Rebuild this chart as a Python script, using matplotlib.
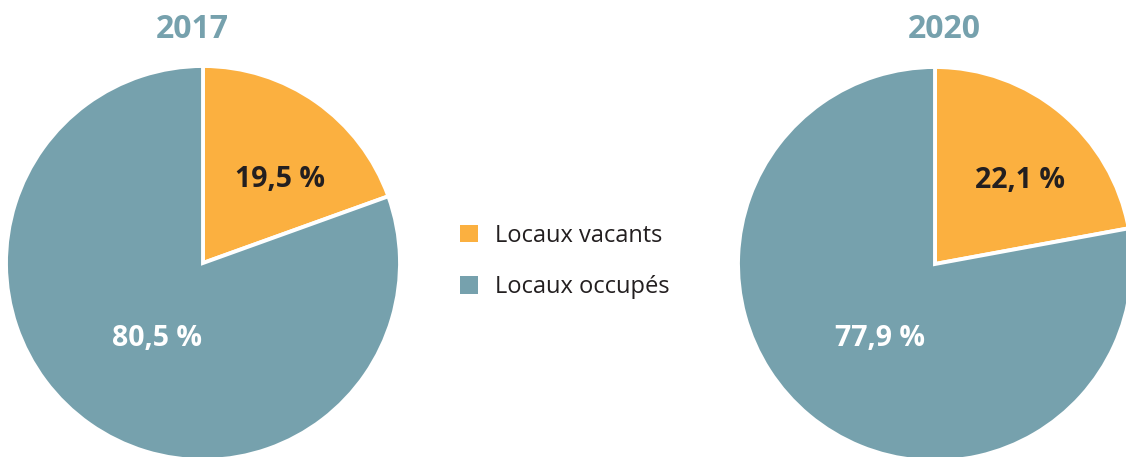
import numpy as np
import matplotlib.pyplot as plt
from matplotlib.patches import Patch

# donnees
annees = ["2017", "2020"]
categories = ["Locaux vacants", "Locaux occupés"]
vacants = [19.5, 22.1]
occupes = [80.5, 77.9]
etiquettes = [["19,5 %", "80,5 %"], ["22,1 %", "77,9 %"]]

orange = "#FBB040"
bleu = "#76A1AD"
texte = "#231F20"

plt.rcParams['font.family'] = ['Open Sans', 'DejaVu Sans']

W, H = 1126, 457
fig = plt.figure(figsize=(W / 100, H / 100), dpi=100)
ax = fig.add_axes([0, 0, 1, 1])

# position des camemberts (pixels)
centres = [(203, H - 263), (935, H - 264)]
rayon = 197
titres_x = [192, 944]
# (distance relative, decalage angulaire) pour les etiquettes
dist_lab = [[[0.586, -6.7], [0.434, 2.5]], [[0.614, -4.9], [0.456, 2.0]]]

for i in range(2):
    vals = [vacants[i], occupes[i]]
    wedges, _ = ax.pie(vals, colors=[orange, bleu], startangle=90, counterclock=False,
                       center=centres[i], radius=rayon, frame=True,
                       wedgeprops=dict(edgecolor='white', linewidth=2.8))
    # etiquettes
    debut = 90
    for j, v in enumerate(vals):
        mil = debut - v * 3.6 / 2 + dist_lab[i][j][1]
        debut -= v * 3.6
        r = dist_lab[i][j][0] * rayon
        x = centres[i][0] + r * np.cos(np.radians(mil))
        y = centres[i][1] + r * np.sin(np.radians(mil)) - 3
        ax.text(x, y, etiquettes[i][j], ha='center', va='center', fontsize=20.5,
                fontweight='bold', color=texte if j == 0 else 'white')
    ax.text(titres_x[i], H - 29, annees[i], ha='center', va='center', fontsize=23,
            fontweight='bold', color=bleu)

ax.set_xlim(0, W)
ax.set_ylim(0, H)
ax.set_aspect('equal')
ax.axis('off')

poignees = [Patch(facecolor=orange), Patch(facecolor=bleu)]
leg = ax.legend(poignees, categories, loc='upper left', bbox_to_anchor=(460 / W, 1 - 224 / H),
                frameon=False, fontsize=17, handlelength=0.76, handleheight=0.76,
                handletextpad=0.72, labelspacing=1.15, borderaxespad=0, borderpad=0)
for t in leg.get_texts():
    t.set_color(texte)

fig.savefig("out.png", dpi=100)
